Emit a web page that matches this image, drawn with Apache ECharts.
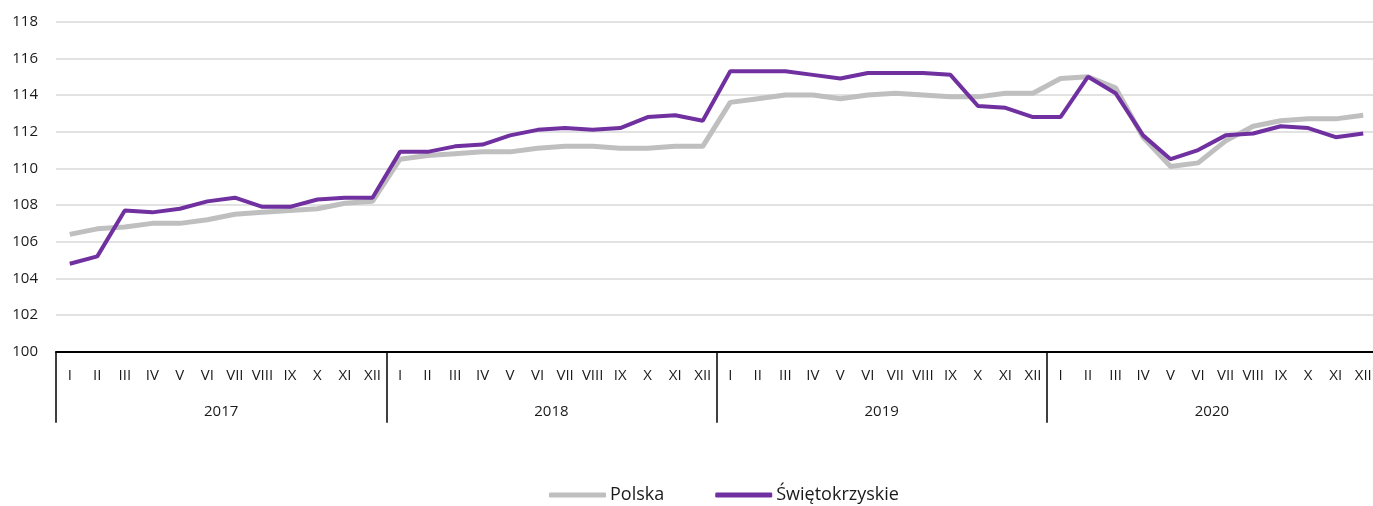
<!DOCTYPE html>
<html>
<head>
<meta charset="utf-8">
<script src="https://cdn.jsdelivr.net/npm/echarts@6/dist/echarts.min.js"></script>
<style>
html,body{margin:0;padding:0;background:#fff;}
#chart{width:1373px;height:506px;}
</style>
</head>
<body>
<div id="chart"></div>
<script>
const months = ['I','II','III','IV','V','VI','VII','VIII','IX','X','XI','XII'];
const years = ['2017','2018','2019','2020'];
const categories = [].concat(months, months, months, months);

const polska = [
  106.4,106.7,106.8,107.0,107.0,107.2,107.5,107.6,107.7,107.8,108.1,108.2,
  110.5,110.7,110.8,110.9,110.9,111.1,111.2,111.2,111.1,111.1,111.2,111.2,
  113.6,113.8,114.0,114.0,113.8,114.0,114.1,114.0,113.9,113.9,114.1,114.1,
  114.9,115.0,114.4,111.7,110.1,110.3,111.5,112.3,112.6,112.7,112.7,112.9
];
const swietokrzyskie = [
  104.8,105.2,107.7,107.6,107.8,108.2,108.4,107.9,107.9,108.3,108.4,108.4,
  110.9,110.9,111.2,111.3,111.8,112.1,112.2,112.1,112.2,112.8,112.9,112.6,
  115.3,115.3,115.3,115.1,114.9,115.2,115.2,115.2,115.1,113.4,113.3,112.8,
  112.8,115.0,114.1,111.8,110.5,111.0,111.8,111.9,112.3,112.2,111.7,111.9
];

const FONT = 'Open Sans';
const chart = echarts.init(document.getElementById('chart'), null, {renderer:'canvas'});
chart.setOption({
  animation: false,
  backgroundColor: '#ffffff',
  textStyle: {fontFamily: FONT},
  grid: {left: 56, top: 21.7, width: 1321, height: 330, outerBoundsMode: 'none', containLabel: false},
  legend: {
    left: 549, top: 486, padding: 0,
    icon: 'roundRect', itemWidth: 57, itemHeight: 5, itemGap: 51,
    textStyle: {fontFamily: FONT, fontSize: 18, color: '#1a1a1a', padding: [0,0,0,-1]},
    data: ['Polska', 'Świętokrzyskie']
  },
  xAxis: [
    {
      type: 'category', data: categories, position: 'bottom',
      boundaryGap: true,
      axisLine: {show: true, lineStyle: {color: '#000', width: 2}},
      axisTick: {show: false},
      axisLabel: {interval: 0, margin: 17, fontSize: 15, color: '#1a1a1a', fontFamily: FONT}
    },
    {
      type: 'category', data: years, position: 'bottom', offset: 0,
      boundaryGap: true,
      axisLine: {show: false},
      axisTick: {show: true, inside: false, length: 71, interval: 0, lineStyle: {color: '#000', width: 1.5}},
      axisLabel: {interval: 0, margin: 53, fontSize: 15, color: '#1a1a1a', fontFamily: FONT}
    }
  ],
  yAxis: {
    type: 'value', min: 100, max: 118, interval: 2,
    axisLine: {show: false}, axisTick: {show: false},
    axisLabel: {margin: 18, fontSize: 15, color: '#1a1a1a', fontFamily: FONT},
    splitLine: {show: true, lineStyle: {color: '#d9d9d9', width: 1.5}}
  },
  series: [
    {
      name: 'Polska', type: 'line', data: polska, xAxisIndex: 0,
      symbol: 'none', smooth: false,
      lineStyle: {color: '#bfbfbf', width: 5},
      itemStyle: {color: '#bfbfbf'}
    },
    {
      name: 'Świętokrzyskie', type: 'line', data: swietokrzyskie, xAxisIndex: 0,
      symbol: 'none', smooth: false,
      lineStyle: {color: '#7030a0', width: 4},
      itemStyle: {color: '#7030a0'}
    }
  ]
});
</script>
</body>
</html>
